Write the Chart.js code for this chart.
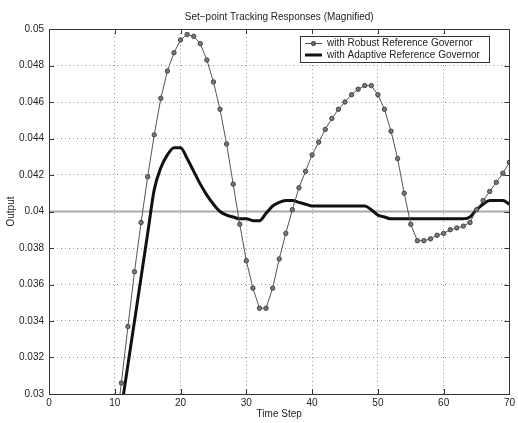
<!DOCTYPE html>
<html lang="en">
<head>
    <meta charset="utf-8">
    <script src="https://cdn.jsdelivr.net/npm/chart.js"></script>
    <title>Set-point Tracking Responses</title>
    <style>
        html, body { margin: 0; padding: 0; background: white; }
        #wrap { width: 518px; height: 423px; }
    </style>
</head>
<body>
    <div id="wrap"><canvas id="chart" width="518" height="423"></canvas></div>
    <script>
        // responses sampled once per time step, starting at step 10
        var firstStep = 10;

        var robust = [
            0.0276, 0.0306, 0.0337, 0.0367, 0.0394, 0.0419, 0.0442, 0.0462, 0.0477, 0.0487,
            0.0494, 0.0497, 0.0496, 0.0492, 0.0483, 0.0471, 0.0456, 0.0437, 0.0415, 0.0393,
            0.0373, 0.0358, 0.0347, 0.0347, 0.0358, 0.0374, 0.0388, 0.0401, 0.0413, 0.0422,
            0.0431, 0.0438, 0.0445, 0.0451, 0.0456, 0.0460, 0.0464, 0.0467, 0.0469, 0.0469,
            0.0464, 0.0456, 0.0444, 0.0429, 0.0410, 0.0393, 0.0384, 0.0384, 0.0385, 0.0387,
            0.0388, 0.0390, 0.0391, 0.0392, 0.0394, 0.0401, 0.0406, 0.0411, 0.0416, 0.0421,
            0.0427
        ];

        var adaptive = [
            0.0268, 0.0292, 0.0316, 0.0340, 0.0364, 0.0388, 0.0412, 0.0424, 0.0431, 0.0435,
            0.0435, 0.0429, 0.0422, 0.0415, 0.0409, 0.0404, 0.0400, 0.0398, 0.0397, 0.0396,
            0.0396, 0.0395, 0.0395, 0.0399, 0.0403, 0.0405, 0.0406, 0.0406, 0.0405, 0.0404,
            0.0403, 0.0403, 0.0403, 0.0403, 0.0403, 0.0403, 0.0403, 0.0403, 0.0403, 0.0401,
            0.0398, 0.0397, 0.0396, 0.0396, 0.0396, 0.0396, 0.0396, 0.0396, 0.0396, 0.0396,
            0.0396, 0.0396, 0.0396, 0.0396, 0.0397, 0.0401, 0.0404, 0.0406, 0.0406, 0.0406,
            0.0404
        ];

        var setpointSteps = [0, 70];
        var setpointValues = [0.04, 0.04];

        var xTicks = [0, 10, 20, 30, 40, 50, 60, 70];
        var yTicks = [0.03, 0.032, 0.034, 0.036, 0.038, 0.04, 0.042, 0.044, 0.046, 0.048, 0.05];

        var titleText = "Set\u2212point Tracking Responses (Magnified)";
        var legendLabels = ["with Robust Reference Governor", "with Adaptive Reference Governor"];

        var font = "Liberation Sans, Arial, Helvetica, sans-serif";

        function toPoints(values) {
            return values.map(function(v, i) { return { x: firstStep + i, y: v }; });
        }

        // title, inward tick marks, axes box and legend drawn straight onto the canvas
        var decorations = {
            id: "decorations",
            afterDatasetsDraw: function(chart) {
                var ctx = chart.ctx;
                var a = chart.chartArea;
                var xs = chart.scales.x, ys = chart.scales.y;
                ctx.save();

                ctx.strokeStyle = "#333";
                ctx.lineWidth = 1;
                ctx.beginPath();
                xTicks.forEach(function(t) {
                    var px = Math.round(xs.getPixelForValue(t)) + 0.5;
                    ctx.moveTo(px, a.bottom); ctx.lineTo(px, a.bottom - 5);
                    ctx.moveTo(px, a.top); ctx.lineTo(px, a.top + 5);
                });
                yTicks.forEach(function(t) {
                    var py = Math.round(ys.getPixelForValue(t)) + 0.5;
                    ctx.moveTo(a.left, py); ctx.lineTo(a.left + 5, py);
                    ctx.moveTo(a.right, py); ctx.lineTo(a.right - 5, py);
                });
                ctx.stroke();
                ctx.strokeRect(Math.round(a.left) + 0.5, Math.round(a.top) + 0.5,
                    Math.round(a.right - a.left), Math.round(a.bottom - a.top));

                // legend box
                var bx = 300.5, by = 36.5, bw = 189, bh = 26;
                ctx.fillStyle = "white";
                ctx.fillRect(bx, by, bw, bh);
                ctx.strokeStyle = "#333";
                ctx.strokeRect(bx, by, bw, bh);

                ctx.font = "10px " + font;
                ctx.textBaseline = "middle";
                ctx.textAlign = "left";

                ctx.strokeStyle = "#555";
                ctx.lineWidth = 1;
                ctx.beginPath(); ctx.moveTo(305, 43.5); ctx.lineTo(322, 43.5); ctx.stroke();
                ctx.fillStyle = "#666";
                ctx.beginPath(); ctx.arc(313.5, 43.5, 2.2, 0, Math.PI * 2); ctx.fill(); ctx.stroke();

                ctx.strokeStyle = "#111";
                ctx.lineWidth = 3;
                ctx.beginPath(); ctx.moveTo(305, 55); ctx.lineTo(322, 55); ctx.stroke();

                ctx.fillStyle = "#222";
                ctx.fillText(legendLabels[0], 327, 43.5);
                ctx.fillText(legendLabels[1], 327, 55);

                ctx.textAlign = "center";
                ctx.fillText(titleText, (a.left + a.right) / 2, 17);
                ctx.restore();
            }
        };

        var ctx = document.getElementById("chart").getContext("2d");
        var chart = new Chart(ctx, {
            type: "line",
            data: {
                datasets: [
                    {
                        label: "setpoint",
                        data: setpointSteps.map(function(s, i) { return { x: s, y: setpointValues[i] }; }),
                        borderColor: "#aaa",
                        borderWidth: 2,
                        pointRadius: 0,
                        order: 3
                    },
                    {
                        label: legendLabels[1],
                        data: toPoints(adaptive),
                        borderColor: "#111",
                        borderWidth: 3,
                        pointRadius: 0,
                        cubicInterpolationMode: "monotone",
                        order: 2
                    },
                    {
                        label: legendLabels[0],
                        data: toPoints(robust),
                        borderColor: "#555",
                        borderWidth: 1,
                        pointRadius: 2.2,
                        pointBackgroundColor: "#777",
                        pointBorderColor: "#444",
                        pointBorderWidth: 1,
                        order: 1
                    }
                ]
            },
            options: {
                responsive: false,
                animation: false,
                events: [],
                layout: { padding: { top: 29, right: 6, left: 0, bottom: 0 } },
                plugins: {
                    legend: { display: false },
                    title: { display: false },
                    tooltip: { enabled: false }
                },
                scales: {
                    x: {
                        type: "linear",
                        min: 0,
                        max: 70,
                        afterBuildTicks: function(s) { s.ticks = xTicks.map(function(v) { return { value: v }; }); },
                        afterFit: function(s) { s.height = 29; },
                        grid: { color: "#999", drawTicks: false, lineWidth: 1 },
                        border: { display: false, dash: [1, 3] },
                        ticks: { color: "#222", font: { family: font, size: 10 }, padding: 3, maxRotation: 0 },
                        title: { display: true, text: "Time Step", color: "#222", font: { family: font, size: 10 }, padding: { top: 0, bottom: 3 } }
                    },
                    y: {
                        min: 0.03,
                        max: 0.05,
                        afterBuildTicks: function(s) { s.ticks = yTicks.map(function(v) { return { value: v }; }); },
                        afterFit: function(s) { s.width = 49; },
                        grid: { color: "#999", drawTicks: false, lineWidth: 1 },
                        border: { display: false, dash: [1, 3] },
                        ticks: {
                            color: "#222",
                            font: { family: font, size: 10 },
                            padding: 5,
                            callback: function(v) { return String(parseFloat(v.toFixed(3))); }
                        },
                        title: { display: true, text: "Output", color: "#222", font: { family: font, size: 10 }, padding: { top: 5, bottom: 0 } }
                    }
                }
            },
            plugins: [decorations]
        });
    </script>
</body>
</html>
